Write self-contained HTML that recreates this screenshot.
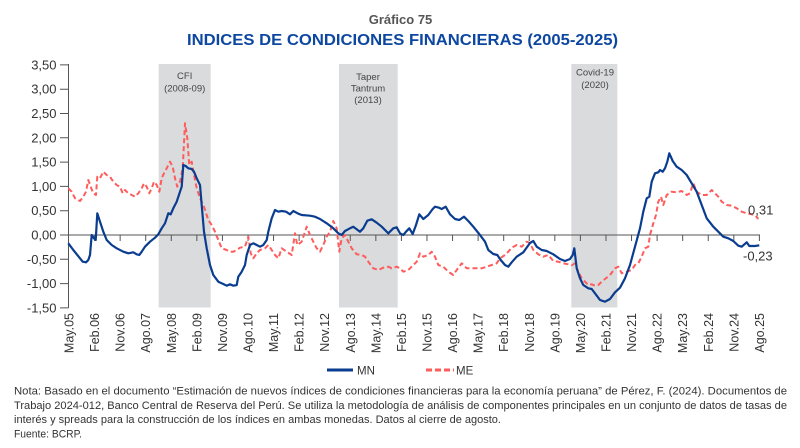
<!DOCTYPE html>
<html>
<head>
<meta charset="utf-8">
<style>
html,body{margin:0;padding:0;background:#fff;}
svg{display:block;}
text{font-family:"Liberation Sans",sans-serif;}
</style>
</head>
<body>
<svg width="800" height="448" viewBox="0 0 800 448" xmlns="http://www.w3.org/2000/svg">
<rect width="800" height="448" fill="#fff"/>
<!-- titles -->
<text x="400.5" y="24" text-anchor="middle" font-size="13" font-weight="bold" fill="#555">Gráfico 75</text>
<text x="402.5" y="45" text-anchor="middle" font-size="16" font-weight="bold" fill="#0d47a1" textLength="431" lengthAdjust="spacingAndGlyphs">INDICES DE CONDICIONES FINANCIERAS (2005-2025)</text>

<!-- shaded periods -->
<rect x="158.7" y="64" width="52" height="243.5" fill="#dadbdd"/>
<rect x="339" y="64" width="58.7" height="243.5" fill="#dadbdd"/>
<rect x="571.3" y="64" width="46" height="243.5" fill="#dadbdd"/>
<g font-size="9.5" fill="#444" text-anchor="middle">
<text x="184.7" y="79">CFI</text>
<text x="184.7" y="91.5">(2008-09)</text>
<text x="368" y="80">Taper</text>
<text x="368" y="91.5">Tantrum</text>
<text x="368" y="103">(2013)</text>
<text x="595" y="75.5">Covid-19</text>
<text x="595" y="88">(2020)</text>
</g>

<!-- axes -->
<g stroke="#555" stroke-width="1" fill="none">
<line x1="68.5" y1="64" x2="68.5" y2="308"/>
<line x1="68.5" y1="235" x2="760" y2="235"/>
<path d="M60 64.9H68.5M60 89.2H68.5M60 113.5H68.5M60 137.8H68.5M60 162.1H68.5M60 186.4H68.5M60 210.7H68.5M60 235H68.5M60 259.3H68.5M60 283.6H68.5M60 307.9H68.5"/>
<path d="M94.57 235v6M120.14 235v6M145.71 235v6M171.28 235v6M196.85 235v6M222.42 235v6M247.99 235v6M273.56 235v6M299.13 235v6M324.7 235v6M350.27 235v6M375.84 235v6M401.41 235v6M426.98 235v6M452.55 235v6M478.12 235v6M503.69 235v6M529.26 235v6M554.83 235v6M580.4 235v6M605.97 235v6M631.54 235v6M657.11 235v6M682.68 235v6M708.25 235v6M733.82 235v6M759.39 235v6"/>
</g>

<!-- y labels -->
<g font-size="13" fill="#333" text-anchor="end">
<text x="56.5" y="69.4">3,50</text>
<text x="56.5" y="93.7">3,00</text>
<text x="56.5" y="118">2,50</text>
<text x="56.5" y="142.3">2,00</text>
<text x="56.5" y="166.6">1,50</text>
<text x="56.5" y="190.9">1,00</text>
<text x="56.5" y="215.2">0,50</text>
<text x="56.5" y="239.5">0,00</text>
<text x="56.5" y="263.8">-0,50</text>
<text x="56.5" y="288.1">-1,00</text>
<text x="56.5" y="312.4">-1,50</text>
</g>

<!-- x labels -->
<g font-size="12.5" fill="#333" text-anchor="end">
<text transform="translate(73.5,313) rotate(-90)">May.05</text>
<text transform="translate(99.07,313) rotate(-90)">Feb.06</text>
<text transform="translate(124.64,313) rotate(-90)">Nov.06</text>
<text transform="translate(150.21,313) rotate(-90)">Ago.07</text>
<text transform="translate(175.78,313) rotate(-90)">May.08</text>
<text transform="translate(201.35,313) rotate(-90)">Feb.09</text>
<text transform="translate(226.92,313) rotate(-90)">Nov.09</text>
<text transform="translate(252.49,313) rotate(-90)">Ago.10</text>
<text transform="translate(278.06,313) rotate(-90)">May.11</text>
<text transform="translate(303.63,313) rotate(-90)">Feb.12</text>
<text transform="translate(329.2,313) rotate(-90)">Nov.12</text>
<text transform="translate(354.77,313) rotate(-90)">Ago.13</text>
<text transform="translate(380.34,313) rotate(-90)">May.14</text>
<text transform="translate(405.91,313) rotate(-90)">Feb.15</text>
<text transform="translate(431.48,313) rotate(-90)">Nov.15</text>
<text transform="translate(457.05,313) rotate(-90)">Ago.16</text>
<text transform="translate(482.62,313) rotate(-90)">May.17</text>
<text transform="translate(508.19,313) rotate(-90)">Feb.18</text>
<text transform="translate(533.76,313) rotate(-90)">Nov.18</text>
<text transform="translate(559.33,313) rotate(-90)">Ago.19</text>
<text transform="translate(584.9,313) rotate(-90)">May.20</text>
<text transform="translate(610.47,313) rotate(-90)">Feb.21</text>
<text transform="translate(636.04,313) rotate(-90)">Nov.21</text>
<text transform="translate(661.61,313) rotate(-90)">Ago.22</text>
<text transform="translate(687.18,313) rotate(-90)">May.23</text>
<text transform="translate(712.75,313) rotate(-90)">Feb.24</text>
<text transform="translate(738.32,313) rotate(-90)">Nov.24</text>
<text transform="translate(763.89,313) rotate(-90)">Ago.25</text>
</g>

<!-- ME series -->
<polyline fill="none" stroke="#ff5c5c" stroke-width="2" stroke-dasharray="5,3" stroke-linejoin="round" points="68.3,188.3 71.7,191.7 75,198.3 80,201 83.3,196.7 86,191.7 88.3,180 90.7,186.7 93.3,193.3 96,195 97.3,176.7 100,178.3 103.3,171.7 106.7,175 110,176.7 113.3,181.7 116.7,185 120,186.7 122.7,193.3 125,190 128.3,193.3 131.7,195 135,196.7 138.3,193.3 141.7,188.3 144,183.3 146.7,186.7 149.3,193.3 151.7,188.3 154,181.7 156.7,185 159.3,191.7 161.7,178.3 164,173.3 166.7,168.3 170,161.7 172.7,166.7 175,178.3 177.3,186.7 180,181.7 182.7,168.3 185,123.3 187.3,138.3 189.3,165 191.7,161.7 194,175 196.7,188.3 200,198.3 204,206.7 208.3,220 211.7,225 215,231.7 218.3,240 221.7,248.3 226.7,250 230,251.7 233.3,251.7 236.7,250 240,247.7 245,246.7 248.3,236.7 250.7,253.3 253.3,258.3 256.7,253.3 260,250 265,248.3 268.3,245 271.7,250 275,255 278.3,258.3 281.7,248.3 286.7,251.7 291.7,255 295,233.3 297.3,245 301.7,241.7 306.7,226.7 310,235 313.3,241.7 316.7,248.3 320,251.7 324,243.3 326.7,236.7 330,231.7 333.3,221 336.7,228.3 339.3,251.7 341.7,238.3 345,235 348.3,241.7 351.7,248.3 356.7,254.3 361.7,255 365,256.7 368.3,261.7 373.3,268.3 378.3,270 383.3,267.7 388.3,266.7 391.7,268.3 396.7,266.7 400,268.3 403.3,271.7 408.3,270 413.3,265 416.7,261.7 420,253.3 423.3,256.7 428.3,255 431.7,251.7 435,256.7 438.3,265 443.3,266.7 448.3,271.7 453.3,275 456.7,270 461.7,263.3 466.7,268.3 471.7,268.3 476.7,268.3 481.7,268.3 486.7,266.7 491.7,265 496.7,263.3 500,258.3 505,255 508.3,251.7 511.7,247.7 516.7,245 521.7,246.7 526.7,241.7 530,243 533.3,250 538.3,254.3 543.3,256.7 548.3,255 553.3,261 558.3,261.7 563.3,263.3 568.3,264.3 571.7,265.3 575,263.3 578.3,271.7 581.7,278.3 585,281.7 588.3,285 591.7,284.3 595,285.7 598.3,285 601.7,281.7 605,279 610,275 615,268.3 618.3,266.7 621.7,273.3 626.7,271.7 631.7,270 635,265 638.3,263.3 641.7,256.7 645,248.3 648.3,246.7 650,235 653.3,223.3 656,215 658.3,201.7 661,196.7 663.3,205 666.7,195 671.7,191.7 676.7,192.3 681.7,191 686.7,195 690,193.3 693.3,183.3 696.7,191.7 701.7,195 706.7,195 711.7,190 715,193.3 718.3,196.7 721.7,201.7 726.7,205 731.7,205.7 736.7,208.3 741.7,211.7 746.7,213.3 751.7,214.3 755,215 758.3,219"/>

<!-- MN series -->
<polyline fill="none" stroke="#0a3d8f" stroke-width="2.2" stroke-linejoin="round" points="68.3,243.3 73.3,250 80,258.3 82.7,261.7 86,262.3 88.3,260 90,255 91.7,235 94,238.3 95.7,240 97.3,213.3 100,221.7 103.3,231.7 106.7,240 111.7,245 116.7,248.3 123.3,251.7 128.3,253.3 133.3,252.3 136.7,254.3 139.3,255 141.7,251.7 145,246.7 150,241.7 155,237.7 158.3,234.3 161.7,228.3 165,223.3 168.3,213.3 170.7,214.3 173.3,208.3 176.7,201.7 180,191.7 181.7,186.7 183.3,165 185.7,166 188.3,168.3 191.7,169 194,171.7 196.7,178.3 200,185 201.7,205 204,231.7 206.7,248.3 210,265 213.3,275 218.3,281.7 223.3,284 226.7,285.7 230,284.3 233.3,285.7 236.7,285 238.3,276.7 241.7,271.7 245,265 246.7,255 250,245 253.3,243.3 256.7,245 260,246.7 263.3,245 266.7,240 268.3,231.7 271.7,218.3 275,210 278.3,211.7 281.7,211 286,211.7 290,214.3 293.3,211 298.3,213.7 301.7,215 310,215.7 315,216.7 320,219 326.7,223.3 333.3,228.3 338.3,233.3 341.7,235 345,231 350,228.3 353.3,226.7 360,231.7 363.3,228.3 367.3,220.7 371.7,219.3 376.7,222.7 381.7,226.7 388.3,233.3 393.3,228.3 396.7,227.3 400,233.3 403.3,235 406,231.7 409.3,228.3 412.7,234 416,225 419.3,214.3 423.3,219 428.3,215 432.7,209 435,206.7 439,207.7 441.7,209 445.7,206.7 450,214.3 455,219 459.3,220 464,216.7 468.3,221 473.3,226.7 480,235 485,241.7 488.3,250 493.3,254 497.3,255 500.7,260 505,265 508.3,266.7 511.7,262.3 516.7,256.7 523.3,252.3 530,243 533.3,241 536.7,246.7 541.7,250 546.7,251 553.3,254.3 560,259 565,261 570,259 572.7,255 574.3,248.3 576.7,268.3 580,278.3 583.3,285 588.3,288.3 591.7,289 595,293.3 600,300 605,301.7 610,299 615,292.3 620,287.7 625,278.3 630,265 635,246.7 640,228.3 643.3,211.7 646.7,198.3 649.3,196.7 651.7,181.7 655,173.3 658.3,172.3 660,170 662.7,171.7 665,168.3 667.3,161.7 669.3,153.3 672.7,161 676.7,166.7 681.7,170 686.7,175 691.7,183.3 696.7,191.7 701.7,205 706.7,218.3 713.3,226.7 718.3,231.7 723.3,236.7 728.3,238.3 733.3,241 738.3,245.7 741.7,246.7 746.7,242.3 749.3,246 755,246 759.3,245.3"/>

<!-- end labels -->
<text x="748" y="214.5" font-size="13" fill="#333">0,31</text>
<text x="743" y="260.5" font-size="13" fill="#333">-0,23</text>

<!-- legend -->
<line x1="327" y1="370" x2="353" y2="370" stroke="#0a3d8f" stroke-width="3"/>
<text x="357" y="374.5" font-size="11.5" fill="#333">MN</text>
<line x1="426" y1="370" x2="454" y2="370" stroke="#ff5c5c" stroke-width="3" stroke-dasharray="6,3"/>
<text x="456" y="374.5" font-size="11.5" fill="#333">ME</text>

<!-- notes -->
<g font-size="11" fill="#333">
<text x="14" y="394.3" textLength="773" lengthAdjust="spacingAndGlyphs">Nota: Basado en el documento “Estimación de nuevos índices de condiciones financieras para la economía peruana” de Pérez, F. (2024). Documentos de</text>
<text x="14" y="408.8" textLength="773" lengthAdjust="spacingAndGlyphs">Trabajo 2024-012, Banco Central de Reserva del Perú. Se utiliza la metodología de análisis de componentes principales en un conjunto de datos de tasas de</text>
<text x="14" y="423.2" textLength="487" lengthAdjust="spacingAndGlyphs">interés y spreads para la construcción de los índices en ambas monedas. Datos al cierre de agosto.</text>
<text x="14" y="437.6" textLength="68" lengthAdjust="spacingAndGlyphs">Fuente: BCRP.</text>
</g>
</svg>
</body>
</html>
